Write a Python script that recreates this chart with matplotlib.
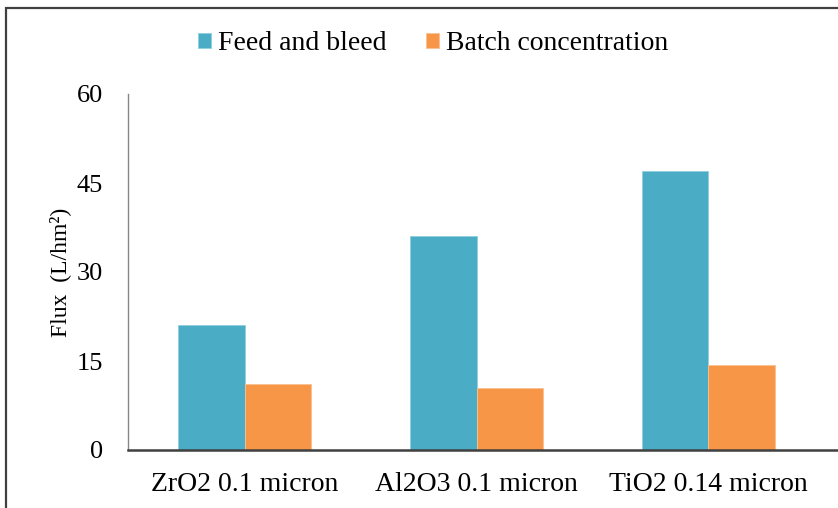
import matplotlib
matplotlib.use("Agg")
from matplotlib import pyplot as plt
from matplotlib.patches import Rectangle
import numpy as np

categories = ["ZrO2 0.1 micron", "Al2O3 0.1 micron", "TiO2 0.14 micron"]
feed_and_bleed = [21.1, 36.1, 47.0]
batch_conc = [11.1, 10.5, 14.4]
y_ticks = [0, 15, 30, 45, 60]

plt.rcParams["font.family"] = ["Liberation Serif", "DejaVu Serif"]

fig = plt.figure(figsize=(8.38, 5.08), dpi=100)
W, H = 838, 508

# border round the whole chart
fig.patches.append(Rectangle((5.5 / W, -0.05), 1.2, (H - 8.5) / H + 0.05,
                             transform=fig.transFigure, fill=False,
                             edgecolor="#404040", linewidth=1.6))

ax = fig.add_axes([128 / W, (H - 450) / H, (838 - 128) / W, (450 - 94) / H])

x = np.arange(len(categories))
width = 0.287
ax.bar(x - width / 2, feed_and_bleed, width, color="#4BACC6",
       edgecolor="#8fd0e0", linewidth=0.6, label="Feed and bleed")
ax.bar(x + width / 2, batch_conc, width, color="#F79646",
       edgecolor="#fbc090", linewidth=0.6, label="Batch concentration")

ax.set_xlim(-0.505, 2.56)
ax.set_ylim(0, 60)
ax.set_yticks(y_ticks)
ax.set_xticks(x)
ax.set_xticklabels(categories)
ax.tick_params(axis="y", length=0, labelsize=19, pad=18)
ax.tick_params(axis="x", length=0, labelsize=20, pad=16)

for s in ["top", "right"]:
    ax.spines[s].set_visible(False)
ax.spines["left"].set_color("#868686")
ax.spines["left"].set_linewidth(1.0)
ax.spines["bottom"].set_color("#404040")
ax.spines["bottom"].set_linewidth(1.8)

ax.set_ylabel("Flux  (L/hm²)", fontsize=17, labelpad=4)

fig.legend(loc="center", bbox_to_anchor=(433 / W, (H - 44) / H), ncol=2,
           frameon=False, fontsize=20, handlelength=0.48, handleheight=0.48,
           handletextpad=0.25, columnspacing=1.4)

fig.savefig("out.png", dpi=100)
